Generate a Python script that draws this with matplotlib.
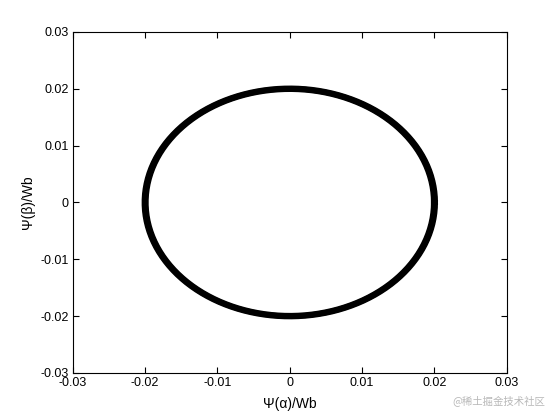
import numpy as np
import matplotlib
matplotlib.use("Agg")
import matplotlib.pyplot as plt

plt.rcParams['font.family'] = ['Liberation Sans', 'DejaVu Sans']

# flux trajectory: a few turns with slightly different amplitude (Wb)
radii = [0.0200, 0.0199, 0.0201, 0.0198, 0.0202]
centre_x = 0.0
centre_y = 0.0
ticks = [-0.03, -0.02, -0.01, 0, 0.01, 0.02, 0.03]
tick_labels = ['-0.03', '-0.02', '-0.01', '0', '0.01', '0.02', '0.03']

fig = plt.figure(figsize=(5.6, 4.2), dpi=100)
ax = fig.add_axes([0.13, 0.112, 0.775, 0.812])

t = np.linspace(0, 2 * np.pi, 400)
for r in radii:
    ax.plot(centre_x + r * np.cos(t), centre_y + r * np.sin(t), color='k', lw=3.0)

ax.set_xlim(-0.03, 0.03)
ax.set_ylim(-0.03, 0.03)
ax.set_xticks(ticks)
ax.set_yticks(ticks)
ax.set_xticklabels(tick_labels)
ax.set_yticklabels(tick_labels)
ax.tick_params(direction='in', top=True, right=True, length=4, width=0.8,
               labelsize=9, pad=3)
for s in ax.spines.values():
    s.set_linewidth(0.8)

ax.set_xlabel('Ψ(α)/Wb', fontsize=10, labelpad=6)
ax.set_ylabel('Ψ(β)/Wb', fontsize=10, labelpad=4)

fig.text(0.973, 0.045, '@稀土掘金技术社区', ha='right', va='center', fontsize=7.5,
         color='#b8b8b8', family=['Noto Sans CJK SC', 'DejaVu Sans'])

fig.savefig('out.png', dpi=100, facecolor='white')
